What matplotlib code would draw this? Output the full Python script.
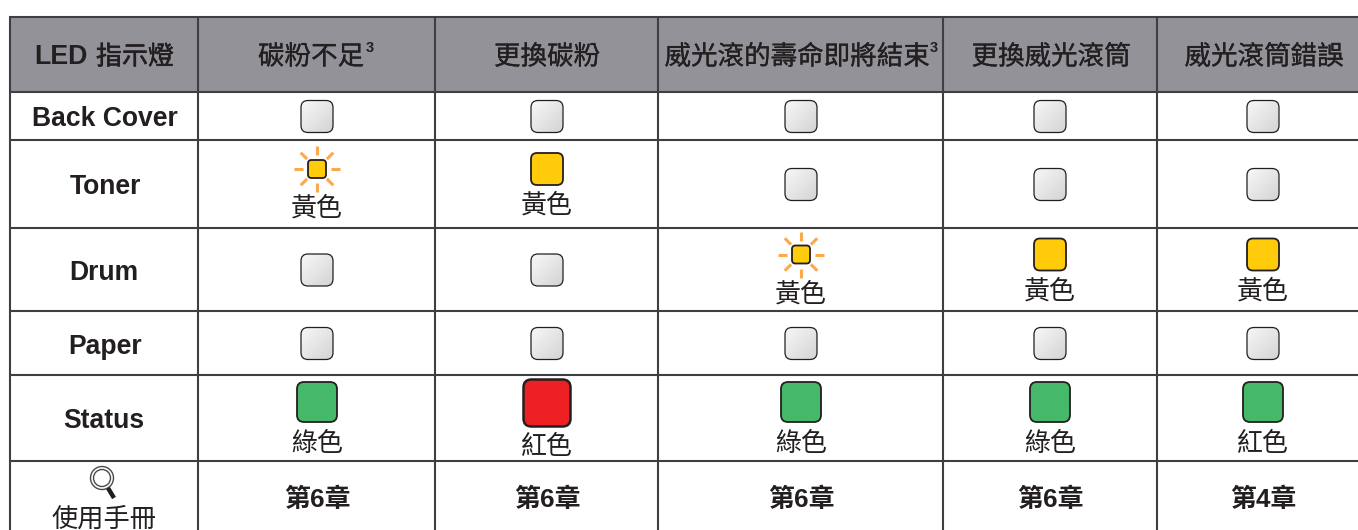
import numpy as np
import matplotlib
matplotlib.use("Agg")
import matplotlib.pyplot as plt
import matplotlib.patheffects as pe
from matplotlib.patches import FancyBboxPatch, Circle, Rectangle

CJK = ['Liberation Sans', 'Noto Sans CJK TC']
INK = '#231F20'
GRID = '#3f3f41'

# table content
header_labels = ['碳粉不足', '更換碳粉', '威光滾的壽命即將結束', '更換威光滾筒', '威光滾筒錯誤']
header_notes = ['3', '', '3', '', '']
row_labels = ['Back Cover', 'Toner', 'Drum', 'Paper', 'Status']
chapter_labels = ['第6章', '第6章', '第6章', '第6章', '第4章']
manual_label = '使用手冊'

# off / blink / on, one list per row
back_cover_states = ['off', 'off', 'off', 'off', 'off']
toner_states = ['blink', 'on', 'off', 'off', 'off']
drum_states = ['off', 'off', 'blink', 'on', 'on']
paper_states = ['off', 'off', 'off', 'off', 'off']
status_colors = ['green', 'red', 'green', 'green', 'green']
status_names = ['綠色', '紅色', '綠色', '綠色', '紅色']
yellow_name = '黃色'

# layout in pixels of the 1358x530 picture
col_edges = [10, 198, 435, 658, 943, 1157]
row_edges = [17, 92, 140, 228, 311, 375, 461]
icon_x = [317, 547, 801, 1050, 1263]
label_x = 104

fig = plt.figure(figsize=(13.58, 5.30), dpi=100)
ax = fig.add_axes([0, 0, 1, 1])
ax.set_xlim(0, 1358)
ax.set_ylim(530, 0)
ax.axis('off')

# grey gradient for the unlit LED
grad = np.linspace(0, 1, 40)
grad = (grad[None, :] + grad[:, None]) / 2


def led(x, y, w, h, color, lw=1.3, radius=6):
    box = FancyBboxPatch((x - w / 2, y - h / 2), w, h,
                         boxstyle=f'round,pad=0,rounding_size={radius}',
                         facecolor=color, edgecolor=INK, linewidth=lw, zorder=4)
    ax.add_patch(box)
    return box


def off_led(x, y):
    box = led(x, y, 32, 32, 'none', lw=0.9, radius=7)
    im = ax.imshow(0.97 - grad * 0.14, extent=(x - 16, x + 16, y + 16, y - 16), cmap='gray',
                   vmin=0, vmax=1, aspect='auto', zorder=3)
    im.set_clip_path(box)


def blink_led(x, y):
    for a in np.arange(0, 360, 45):
        dx, dy = np.cos(np.radians(a)), np.sin(np.radians(a))
        ax.plot([x + 14 * dx, x + 23 * dx], [y + 14 * dy, y + 23 * dy],
                color='#FAA94C', lw=2.2, solid_capstyle='butt', zorder=3)
    led(x, y, 18, 18, '#FFCB0B', lw=1.3, radius=3.5)


def put_text(x, y, s, size=18.7, weight='normal', stroke=0):
    t = ax.text(x, y + 2.5, s, fontsize=size, family=CJK, weight=weight, color=INK,
                ha='center', va='center')
    if stroke:
        t.set_path_effects([pe.withStroke(linewidth=stroke, foreground=INK)])


def draw_row(top, bottom, states):
    mid = (top + bottom) / 2
    for x, state in zip(icon_x, states):
        if state == 'off':
            off_led(x, mid + 0.5)
        elif state == 'blink':
            blink_led(x, mid - 15)
            put_text(x, mid + 22, yellow_name)
        else:
            led(x, mid - 15, 32, 32, '#FFCB0B')
            put_text(x, mid + 19, yellow_name)


# header band and grid
ax.add_patch(Rectangle((col_edges[0], row_edges[0]), 1358 - col_edges[0], row_edges[1] - row_edges[0],
                       facecolor='#939299', edgecolor='none', zorder=1))
for y in row_edges:
    ax.plot([col_edges[0] - 1, 1358], [y, y], color=GRID, lw=1.5, zorder=2, solid_capstyle='butt')
for x in col_edges:
    ax.plot([x, x], [row_edges[0], 530], color=GRID, lw=1.5, zorder=2, solid_capstyle='butt')

# header text
put_text(61, 55, 'LED', size=19.3, weight='bold')
put_text(135, 55, '指示燈', size=18.7, stroke=0.4)
header_centers = [311, 547, 797, 1051, 1264]
note_x = [370, 0, 934, 0, 0]
for i, (s, note) in enumerate(zip(header_labels, header_notes)):
    put_text(header_centers[i], 55, s, size=19.1, stroke=0.2)
    if note:
        ax.text(note_x[i], 48, note, fontsize=10.5, family=CJK, weight='bold', color=INK,
                ha='center', va='center')

# first column
row_label_y = [117, 185, 270, 344, 419]
row_label_x = [105, 105, 104, 105, 104]
for x, y, s in zip(row_label_x, row_label_y, row_labels):
    put_text(x, y, s, size=19.1, weight='bold')

# LED rows
draw_row(row_edges[1], row_edges[2], back_cover_states)
draw_row(row_edges[2], row_edges[3], toner_states)
draw_row(row_edges[3], row_edges[4], drum_states)
draw_row(row_edges[4], row_edges[5], paper_states)

mid = (row_edges[5] + row_edges[6]) / 2
for x, color, name in zip(icon_x, status_colors, status_names):
    if color == 'red':
        led(x, mid - 15, 47, 47, '#EE2024', lw=1.8, radius=8)
        put_text(x, mid + 26.5, name)
    else:
        led(x, mid - 16, 40, 40, '#45B969', lw=1.3, radius=7)
        put_text(x, mid + 23, name)

# manual row
ax.add_patch(Circle((102, 478), 11.5, facecolor='white', edgecolor='#4a4a4c', lw=1.0, zorder=3))
ax.add_patch(Circle((102, 478), 8.5, facecolor='white', edgecolor='#4a4a4c', lw=1.0, zorder=3))
ax.plot([108, 114], [488, 498], color=INK, lw=3.2, solid_capstyle='butt', zorder=3)
put_text(label_x, 516.5, manual_label, size=18.9)
for x, s in zip(icon_x, chapter_labels):
    put_text(x, 497.5, s, size=18.7, weight='bold')

fig.savefig('out.png', dpi=100)
